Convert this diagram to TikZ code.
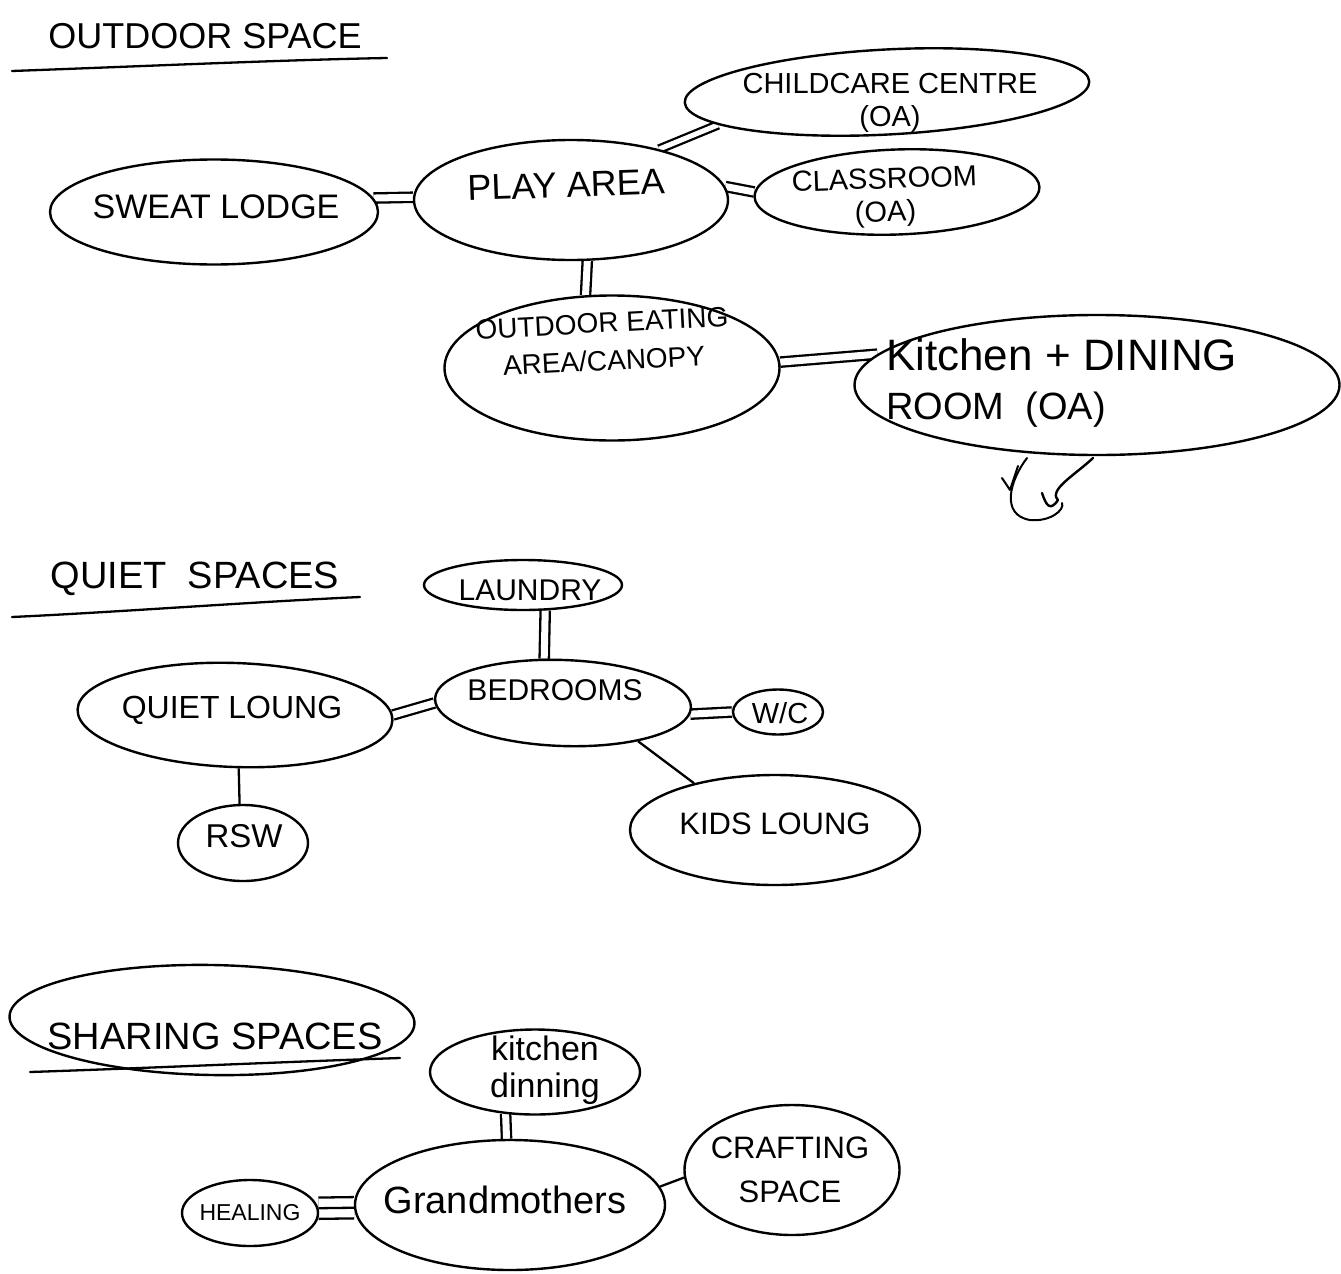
\documentclass[tikz,border=0pt]{standalone}
\usepackage{fontspec}
\setmainfont{Liberation Sans}
\usetikzlibrary{shapes.geometric,backgrounds}
\begin{document}
\begin{tikzpicture}[x=1pt,y=-1pt,line width=2.3pt,line cap=round,line join=round,
  bub/.style={draw=black,fill=white,ellipse,inner sep=0pt,line width=2.4pt},
  lbl/.style={inner sep=0pt,align=center,text=black},
  dbl/.style={double=white,draw=black,double distance=7pt,line width=2.3pt,line cap=butt},
  tpl/.style={double=white,draw=black,double distance=19pt,line width=2.3pt,line cap=butt},
  sgl/.style={draw=black,line width=2.3pt}]
\begin{scope}[on background layer]
\fill[white] (0,0) rectangle (1341,1274);
\end{scope}
\useasboundingbox (0,0) rectangle (1341,1274);

% ---------- OUTDOOR SPACE ----------
\node[lbl,font=\fontsize{36}{36}\selectfont] (t-out) at (205,36) {OUTDOOR SPACE};
\coordinate (u1a) at (12,71); \coordinate (u1b) at (387,58);
\draw (u1a) .. controls (150,66) and (280,60) .. (u1b);

\node[bub,minimum width=328pt,minimum height=105pt] (sweat) at (214,212) {};
\node[bub,minimum width=314pt,minimum height=120pt] (play) at (571,200) {};
\node[bub,minimum width=405pt,minimum height=85pt,rotate=3] (cc) at (887,92) {};
\node[bub,minimum width=285pt,minimum height=85pt,rotate=2] (class) at (897,192) {};
\node[bub,minimum width=335pt,minimum height=145pt] (eat) at (612,368) {};
\node[bub,minimum width=485pt,minimum height=140pt] (kit) at (1097,385) {};

\node[lbl,font=\fontsize{34}{34}\selectfont] (t-sweat) at (216,207) {SWEAT LODGE};
\node[lbl,font=\fontsize{36}{36}\selectfont,rotate=2] (t-play) at (566,185) {PLAY AREA};
\node[lbl,font=\fontsize{29}{33}\selectfont] (t-cc) at (890,103) {CHILDCARE CENTRE\\(OA)};
\node[lbl,font=\fontsize{29}{33}\selectfont,rotate=2] (t-class) at (885,198) {CLASSROOM\\(OA)};
\node[lbl,font=\fontsize{28}{38}\selectfont,rotate=3] (t-eat) at (603,342) {OUTDOOR EATING\\AREA/CANOPY};
\node[lbl,align=left,anchor=west] (t-kit) at (885,383) {{\fontsize{44}{44}\selectfont Kitchen + DINING}\\[20pt]{\fontsize{38}{38}\selectfont ROOM \ (OA)}};

\begin{scope}[on background layer]
\draw[dbl] (sweat.5) -- (play.179);
\draw[dbl,double distance=5pt] (play.30) -- (cc.188);
\draw[dbl] (play.5) -- (class.178);
\draw[dbl] (play.-75) -- (eat.110);
\draw[dbl] (eat.2) -- (kit.172);
\end{scope}

% scribble under kitchen
\coordinate (s1) at (1027,458);
\coordinate (s2) at (1030,520);
\coordinate (s3) at (1093,458);
\draw[line width=2pt] (1002,478) -- (1010,490) -- (1018,466);
\draw[line width=2pt] (s1) .. controls (1010,480) and (1000,515) .. (s2) .. controls (1050,522) and (1065,510) .. (1062,503);
\draw[line width=2.4pt] (1042,493) .. controls (1046,505) and (1050,512) .. (1058,500) .. controls (1048,490) and (1075,475) .. (s3);

% ---------- QUIET SPACES ----------
\node[lbl,font=\fontsize{38}{38}\selectfont] (t-quiet) at (195,579) {QUIET \ SPACES};
\coordinate (u2a) at (12,617); \coordinate (u2b) at (360,597);
\draw (u2a) .. controls (120,612) and (250,602) .. (u2b);

\node[bub,minimum width=198pt,minimum height=50pt] (laundry) at (523,585) {};
\node[bub,minimum width=256pt,minimum height=86pt,rotate=-2] (bed) at (563,703) {};
\node[bub,minimum width=90pt,minimum height=45pt] (wc) at (778,712) {};
\node[bub,minimum width=315pt,minimum height=104pt,rotate=-2] (ql) at (235,715) {};
\node[bub,minimum width=130pt,minimum height=76pt] (rsw) at (243,843) {};
\node[bub,minimum width=290pt,minimum height=110pt] (kids) at (775,830) {};

\node[lbl,font=\fontsize{30}{30}\selectfont] (t-laundry) at (530,590) {LAUNDRY};
\node[lbl,font=\fontsize{30}{30}\selectfont] (t-bed) at (555,690) {BEDROOMS};
\node[lbl,font=\fontsize{29}{29}\selectfont] (t-wc) at (780,713) {W/C};
\node[lbl,font=\fontsize{32}{32}\selectfont] (t-ql) at (232,710) {QUIET LOUNG};
\node[lbl,font=\fontsize{33}{33}\selectfont] (t-rsw) at (244,836) {RSW};
\node[lbl,font=\fontsize{31}{31}\selectfont] (t-kids) at (775,824) {KIDS LOUNG};

\begin{scope}[on background layer]
\draw[dbl] (laundry.-49) -- (bed.115);
\draw[dbl] (ql.2) -- (bed.182);
\draw[dbl] (bed.-3) -- (wc.180);
\draw[sgl] (ql.-84) -- (rsw.95);
\draw[sgl] (bed.-25) -- (kids.150);
\end{scope}

% ---------- SHARING SPACES ----------
\node[bub,minimum width=405pt,minimum height=110pt,rotate=-1] (share) at (212,1020) {};
\node[lbl,font=\fontsize{38}{38}\selectfont] (t-share) at (215,1036) {SHARING SPACES};
\coordinate (u3a) at (30,1072); \coordinate (u3b) at (400,1058);
\draw (u3a) .. controls (150,1068) and (280,1062) .. (u3b);

\node[bub,minimum width=210pt,minimum height=85pt] (kd) at (535,1072) {};
\node[bub,minimum width=310pt,minimum height=130pt] (gm) at (510,1205) {};
\node[bub,minimum width=215pt,minimum height=130pt] (craft) at (792,1170) {};
\node[bub,minimum width=136pt,minimum height=66pt] (heal) at (250,1213) {};

\node[lbl,font=\fontsize{34}{37}\selectfont] (t-kd) at (545,1070) {kitchen\\dinning};
\node[lbl,font=\fontsize{38}{38}\selectfont] (t-gm) at (505,1200) {Grandmothers};
\node[lbl,font=\fontsize{31}{44}\selectfont] (t-craft) at (790,1170) {CRAFTING\\SPACE};
\node[lbl,font=\fontsize{23}{23}\selectfont] (t-heal) at (250,1213) {HEALING};

\begin{scope}[on background layer]
\draw[dbl] (kd.235) -- (gm.93);
\draw[tpl] (heal.4) -- (gm.181);
\draw[sgl] (heal.4) -- (gm.181);
\draw[sgl] (gm.7) -- (craft.184);
\end{scope}
\end{tikzpicture}
\end{document}
